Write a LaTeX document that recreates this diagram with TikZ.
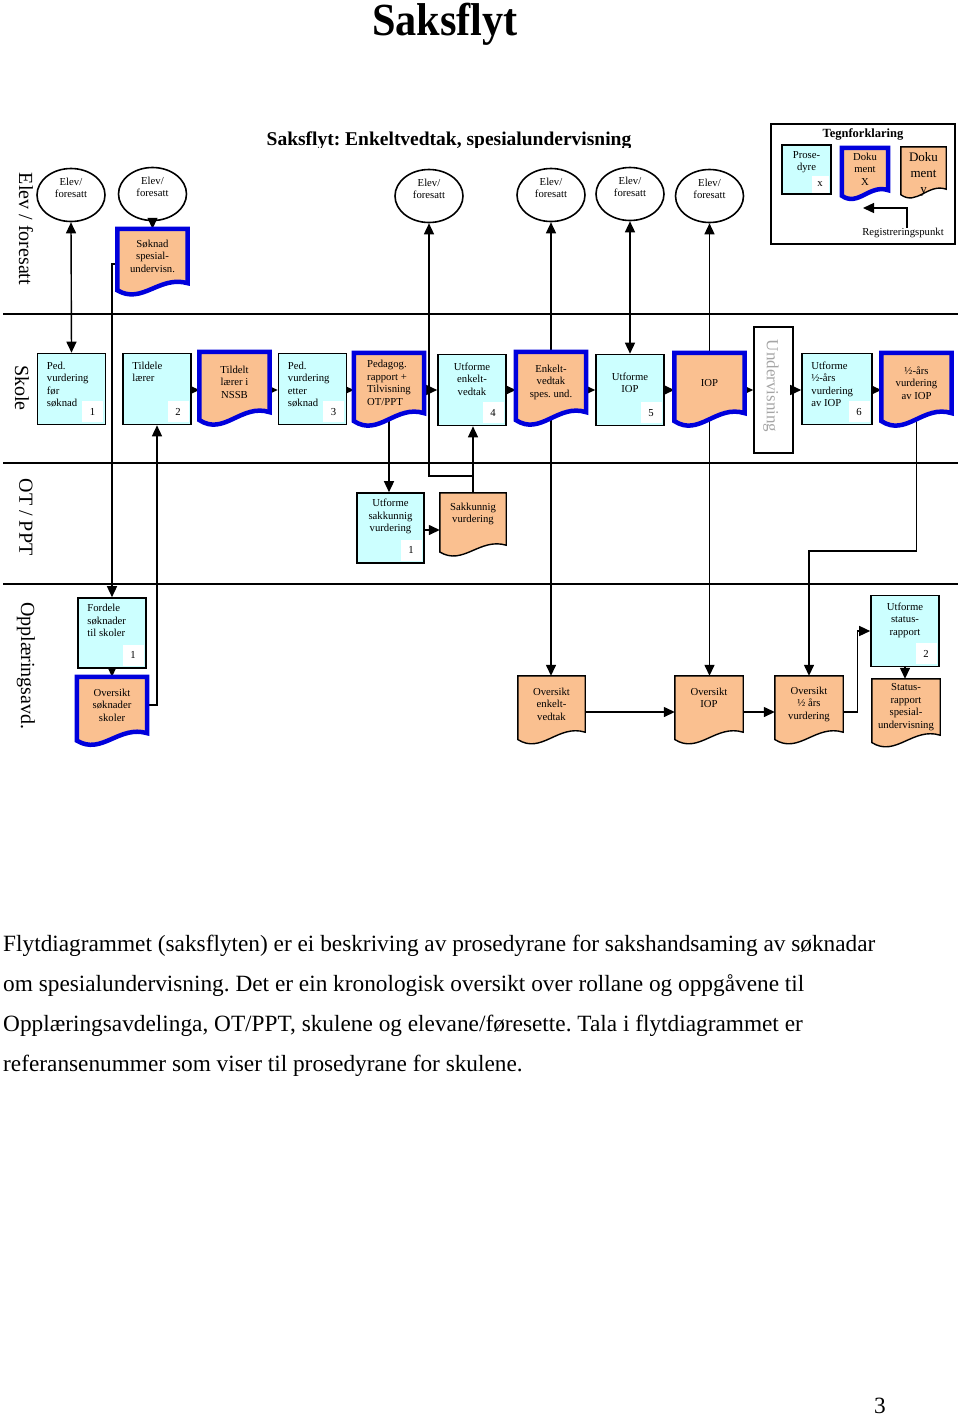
\documentclass[tikz,border=0pt]{standalone}
\usepackage{fontspec}
\setmainfont{Liberation Serif}
\usetikzlibrary{shapes.geometric,arrows.meta,positioning,calc}
\frenchspacing

\definecolor{procfill}{RGB}{204,255,255}
\definecolor{docfill}{RGB}{250,192,144}
\definecolor{docblue}{RGB}{0,0,220}
\definecolor{undgray}{RGB}{165,165,165}

\pgfdeclarelayer{lines}
\pgfdeclarelayer{docs}
\pgfsetlayers{lines,docs,main}

% document outline with wavy bottom, drawn behind the named node
\newcommand{\docshape}[2]{%
  \begin{pgfonlayer}{docs}
  \path[#2] let \p1=(#1.north west), \p2=(#1.south east),
      \n1={\x2-\x1}, \n2={\y1-\y2} in
    (\p1) -- (\x2,\y1) -- (\p2)
    .. controls ({\x1+0.6*\n1},{\y2+0.15*\n2}) and ({\x1+0.35*\n1},{\y2-0.4*\n2}) .. (\x1,{\y2-0.13*\n2})
    -- cycle;
  \end{pgfonlayer}}

\begin{document}
\begin{tikzpicture}[x=1pt, y=-1pt,
	lbl/.style={font=\fontsize{10.7}{12.5}\selectfont, inner sep=0pt},
	ptext/.style={lbl, align=left},
	lane/.style={font=\fontsize{20}{24}\selectfont, rotate=-90, inner sep=0pt},
	body/.style={font=\fontsize{23.3}{26}\selectfont, inner sep=0pt},
	ellip/.style={ellipse, draw, line width=1.6pt, minimum width=68pt, minimum height=53pt},
	proc/.style={draw, fill=procfill, line width=1.6pt, minimum width=68pt, minimum height=71pt},
	doc/.style={lbl, align=center, minimum width=70pt, minimum height=60pt},
	nr/.style={lbl, fill=white, minimum size=21pt},
	bluedoc/.style={fill=docfill, draw=docblue, line width=4.5pt},
	plaindoc/.style={fill=docfill, draw=black, line width=1.4pt},
	arr/.style={-{Triangle[length=11pt,width=10pt]}, line width=1.4pt},
	twoway/.style={{Triangle[length=11pt,width=10pt]}-{Triangle[length=11pt,width=10pt]}, line width=1.4pt}
	]
\useasboundingbox (0,0) rectangle (960,1419);

% headings
\node[font=\fontsize{46}{50}\selectfont\bfseries, anchor=base, inner sep=0pt] (title) at (445,35) {\scalebox{0.92}[1]{Saksflyt}};
\begin{scope}
\clip (0,100) rectangle (960,147);
\node[font=\fontsize{19.5}{22}\selectfont\bfseries, anchor=base, inner sep=0pt] (subtitle) at (449,145) {Saksflyt: Enkeltvedtak, spesialundervisning};
\end{scope}

% lanes
\begin{pgfonlayer}{lines}
\foreach \y in {314,463,584}
	\draw[line width=1.6pt] (3,\y) -- (958,\y);
\end{pgfonlayer}
\node[lane] (laneelev) at (26,229) {Elev / foresatt};
\node[lane] (laneskole) at (22,388) {Skole};
\node[lane] (laneot) at (26,517) {OT / PPT};
\node[lane] (laneopp) at (26,666) {Opplæringsavd.};

% elev / foresatt
\foreach \n/\x/\y in {1/71/195, 2/152.5/194, 3/429/196, 4/551/195, 5/630/194, 6/709.5/196} {
	\node[ellip] (elev\n) at (\x,\y) {};
	\node[lbl, align=center] (elevt\n) at ([yshift=7pt]elev\n.center) {Elev/\\foresatt};
}
\node[doc, minimum height=54pt] (soknad) at (152.5,256) {Søknad\\spesial-\\undervisn.};

% legend
\node[draw, line width=1.6pt, minimum width=184pt, minimum height=120pt] (legend) at (863,184) {};
\node[font=\fontsize{12.5}{14}\selectfont\bfseries, inner sep=0pt] (legtitle) at (863,134) {Tegnforklaring};
\node[proc, minimum width=49pt, minimum height=49pt] (legp) at (806.5,169.5) {};
\node[ptext, align=center, below=7pt of legp.north] (legpt) {Prose-\\dyre};
\node[nr, minimum size=17pt, anchor=south east] (legpn) at ([shift={(-3pt,2pt)}]legp.south east) {x};
\node[doc, minimum width=46pt, minimum height=42pt] (legx) at (865,169) {Doku\\ment\\X};
\node[doc, minimum width=45pt, minimum height=42pt] (legy) at (923.5,168) {};
\node[font=\fontsize{13}{16}\selectfont, align=center, inner sep=0pt] (legyt) at (923.5,174) {Doku\\ment\\y};
\node[lbl] (reg) at (903,233) {Registreringspunkt};
\coordinate (regpt) at (863,208);

% skole
\node[proc] (pvf) at (71.5,389) {};
\node[ptext, below right=9pt and 10pt of pvf.north west] (pvft) {Ped.\\vurdering\\før\\søknad};
\node[nr, anchor=south east] (pvfn) at ([shift={(-3pt,3pt)}]pvf.south east) {1};
\node[proc] (tildele) at (157,389) {};
\node[ptext, below right=9pt and 10pt of tildele.north west] (tildelet) {Tildele\\lærer};
\node[nr, anchor=south east] (tildelen) at ([shift={(-3pt,3pt)}]tildele.south east) {2};
\node[doc] (tildelt) at (234.5,382) {Tildelt\\lærer i\\NSSB};
\node[proc] (pve) at (312.5,389) {};
\node[ptext, below right=9pt and 10pt of pve.north west] (pvet) {Ped.\\vurdering\\etter\\søknad};
\node[nr, anchor=south east] (pven) at ([shift={(-3pt,3pt)}]pve.south east) {3};
\node[doc, align=left] (pedrapp) at (389,383) {Pedagog.\\rapport +\\Tilvisning\\OT/PPT};
\node[proc] (uenk) at (472,390) {};
\node[ptext, align=center, below=9pt of uenk.north] (uenkt) {Utforme\\enkelt-\\vedtak};
\node[nr, anchor=south east] (uenkn) at ([shift={(-3pt,3pt)}]uenk.south east) {4};
\node[doc] (enkv) at (551,382) {Enkelt-\\vedtak\\spes. und.};
\node[proc] (uiop) at (630,390) {};
\node[ptext, align=center, below=19pt of uiop.north] (uiopt) {Utforme\\IOP};
\node[nr, anchor=south east] (uiopn) at ([shift={(-3pt,3pt)}]uiop.south east) {5};
\node[doc] (iop) at (709.5,383) {IOP};
\node[draw, line width=1.6pt, minimum width=39pt, minimum height=126pt] (underv) at (773.5,390) {};
\node[font=\fontsize{17}{20}\selectfont, text=undgray, rotate=-90, inner sep=0pt] (undervt) at (771,386) {Undervisning};
\node[proc, minimum width=70pt] (uhalv) at (837,389) {};
\node[ptext, below right=9pt and 10pt of uhalv.north west] (uhalvt) {Utforme\\½-års\\vurdering\\av IOP};
\node[nr, anchor=south east] (uhalvn) at ([shift={(-3pt,3pt)}]uhalv.south east) {6};
\node[doc] (halvaar) at (916.5,383) {½-års\\vurdering\\av IOP};

% ot / ppt
\node[proc, minimum width=67pt, minimum height=70pt] (usak) at (390.5,528) {};
\node[ptext, align=center, below=7pt of usak.north] (usakt) {Utforme\\sakkunnig\\vurdering};
\node[nr, anchor=south east] (usakn) at ([shift={(-3pt,3pt)}]usak.south east) {1};
\node[doc, minimum width=66pt, minimum height=52pt] (sakk) at (473,519) {Sakkunnig\\vurdering\\~};

% opplaeringsavd.
\node[proc, minimum height=70pt] (fordele) at (112,633) {};
\node[ptext, below right=7pt and 10pt of fordele.north west] (fordelet) {Fordele\\søknader\\til skoler};
\node[nr, anchor=south east] (fordelen) at ([shift={(-3pt,3pt)}]fordele.south east) {1};
\node[doc, minimum height=56pt] (ovsok) at (112,705) {Oversikt\\søknader\\skoler};
\node[doc, minimum width=67pt, minimum height=56pt] (ovenk) at (551.5,704) {Oversikt\\enkelt-\\vedtak};
\node[doc, minimum width=68pt, minimum height=56pt] (oviop) at (709,704) {Oversikt\\IOP\\~};
\node[doc, minimum width=68pt, minimum height=56pt] (ovhalv) at (809,704) {Oversikt\\½ års\\vurdering};
\node[proc] (ustatus) at (905,631) {};
\node[ptext, align=center, below=8pt of ustatus.north] (ustatust) {Utforme\\status-\\rapport};
\node[nr, anchor=south east] (ustatusn) at ([shift={(-3pt,3pt)}]ustatus.south east) {2};
\node[doc, minimum width=68pt, minimum height=56pt] (status) at (906,707) {Status-\\rapport\\spesial-\\undervisning};

% document outlines
\docshape{soknad}{bluedoc}
\docshape{legx}{bluedoc}
\docshape{legy}{plaindoc}
\docshape{tildelt}{bluedoc}
\docshape{pedrapp}{bluedoc}
\docshape{enkv}{bluedoc}
\docshape{iop}{bluedoc}
\docshape{halvaar}{bluedoc}
\docshape{sakk}{plaindoc}
\docshape{ovsok}{bluedoc}
\docshape{ovenk}{plaindoc}
\docshape{oviop}{plaindoc}
\docshape{ovhalv}{plaindoc}
\docshape{status}{plaindoc}

% connectors
\begin{pgfonlayer}{lines}
\draw[twoway] (pvf.north) -- (elev1.south);
\draw[arr] (elev2.south) -- (soknad.north);
\draw[arr] ([yshift=-8pt]soknad.west) -| (fordele.north);
\draw[arr] (fordele.south) -- (ovsok.north);
\draw[arr] (ovsok.east) -| (tildele.south);
\foreach \a/\b in {tildele/tildelt, tildelt/pve, pve/pedrapp, pedrapp/uenk, uenk/enkv,
	enkv/uiop, uiop/iop, iop/underv, underv/uhalv, uhalv/halvaar}
	\draw[arr] (\a.east |- 0,390) -- (\b.west |- 0,390);
\draw[arr] (pedrapp.south) -- (pedrapp.south |- usak.north);
\draw[arr] (usak.east |- 0,530) -- (sakk.west |- 0,530);
\draw[arr] (sakk.north) -- (sakk.north |- uenk.south);
\coordinate (sakbr) at (sakk.north |- 0,476);
\draw[arr] (sakbr) -| (elev3.south);
\draw[arr] (enkv.north) -- (elev4.south);
\draw[arr] (enkv.south) -- (enkv.south |- ovenk.north);
\draw[twoway] (uiop.north) -- (elev5.south);
\draw[arr] (iop.north) -- (elev6.south);
\draw[arr] (iop.south) -- (iop.south |- oviop.north);
\coordinate (halvbr) at (halvaar.south |- 0,551);
\draw[arr] (halvaar.south) -- (halvbr) -| (ovhalv.north);
\draw[arr] (ovenk.east |- 0,712) -- (oviop.west |- 0,712);
\draw[arr] (oviop.east |- 0,712) -- (ovhalv.west |- 0,712);
\draw[arr] (ovhalv.east |- 0,712) -- ++(14,0) |- (ustatus.west);
\draw[arr] (ustatus.south) -- (ustatus.south |- status.north);
\draw[arr] ([xshift=4pt]reg.north) |- (regpt);
\end{pgfonlayer}

% text below
\node[body, anchor=base west] (txt1) at (3,951) {Flytdiagrammet (saksflyten) er ei beskriving av prosedyrane for sakshandsaming av søknadar};
\node[body, anchor=base west] (txt2) at (3,991) {om spesialundervisning. Det er ein kronologisk oversikt over rollane og oppgåvene til};
\node[body, anchor=base west] (txt3) at (3,1031) {Opplæringsavdelinga, OT/PPT, skulene og elevane/føresette. Tala i flytdiagrammet er};
\node[body, anchor=base west] (txt4) at (3,1071) {referansenummer som viser til prosedyrane for skulene.};
\node[body, anchor=base] (pagenr) at (880,1413) {3};
\end{tikzpicture}
\end{document}
